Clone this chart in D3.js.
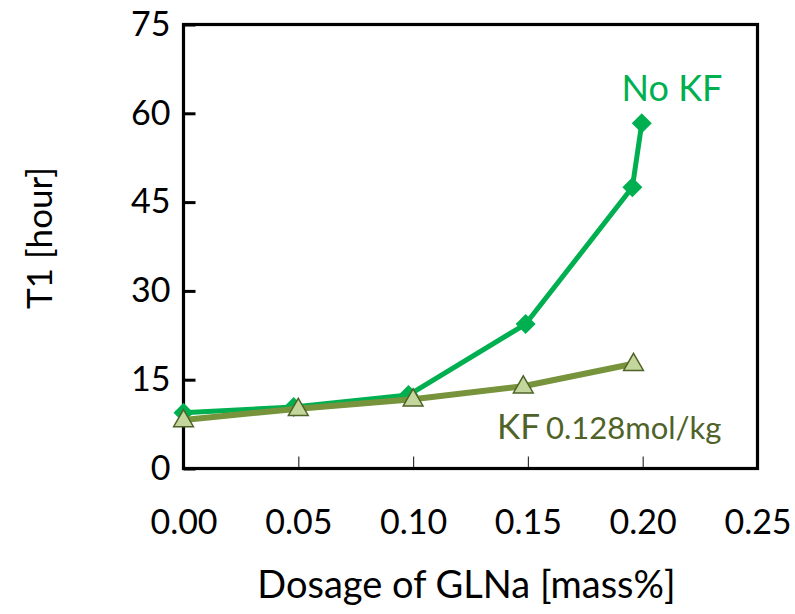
<!DOCTYPE html>
<html>
<head>
<meta charset="utf-8">
<script src="https://cdn.jsdelivr.net/npm/d3@7"></script>
<style>
  html, body { margin: 0; padding: 0; background: #fff; }
  svg { display: block; font-family: Lato, "Open Sans", sans-serif; }
</style>
</head>
<body>
<svg id="chart" width="795" height="614"></svg>
<script>
// ---- data ----
const dosageNoKF = [0.0, 0.048, 0.098, 0.149, 0.1955, 0.1996];
const t1NoKF     = [9.4, 10.4, 12.4, 24.4, 47.5, 58.3];
const dosageKF   = [0.0, 0.05, 0.10, 0.148, 0.196];
const t1KF       = [8.2, 10.1, 11.7, 13.9, 17.7];
const xTicks = [0, 0.05, 0.10, 0.15, 0.20, 0.25];
const yTicks = [0, 15, 30, 45, 60, 75];
const seriesLabels = ["No KF", "KF", "0.128mol/kg"];
const xTitle = "Dosage of GLNa [mass%]";
const yTitle = "T1 [hour]";

const svg = d3.select("#chart");
const m = {left: 183.5, right: 757.5, top: 24.5, bottom: 468.5};

const x = d3.scaleLinear().domain([0, 0.25]).range([m.left, m.right]);
const y = d3.scaleLinear().domain([0, 75]).range([m.bottom, m.top]);

// axes
const yAxis = svg.append("g").attr("transform", `translate(${m.left},0)`)
  .call(d3.axisLeft(y).tickValues(yTicks).tickSize(-12).tickPadding(13).tickFormat(d3.format("d")));
yAxis.select(".domain").remove();
yAxis.selectAll(".tick line").attr("stroke", "#000").attr("stroke-width", 3);
yAxis.selectAll(".tick text").attr("font-size", 34).attr("fill", "#000")
  .attr("font-family", "Lato, sans-serif");

const xAxis = svg.append("g").attr("transform", `translate(0,${m.bottom})`)
  .call(d3.axisBottom(x).tickValues(xTicks).tickSize(-12).tickPadding(41).tickFormat(d3.format(".2f")));
xAxis.select(".domain").remove();
xAxis.selectAll(".tick line").attr("stroke", "#333").attr("stroke-width", 1.2);
xAxis.selectAll(".tick text").attr("font-size", 34).attr("fill", "#000")
  .attr("font-family", "Lato, sans-serif");

// frame
svg.append("rect")
  .attr("x", m.left).attr("y", m.top)
  .attr("width", m.right - m.left).attr("height", m.bottom - m.top)
  .attr("fill", "none").attr("stroke", "#000").attr("stroke-width", 3.2);

// titles
svg.append("text").attr("x", (m.left + m.right) / 2 - 4).attr("y", 598)
  .attr("text-anchor", "middle").attr("font-size", 38).attr("fill", "#000").text(xTitle);
svg.append("text").attr("transform", `translate(52,238) rotate(-90)`)
  .attr("text-anchor", "middle").attr("font-size", 35).attr("fill", "#000").text(yTitle);

// series
const green = "#00B050";
const line = d3.line().x(d => x(d[0])).y(d => y(d[1]));
const noKF = dosageNoKF.map((d, i) => [d, t1NoKF[i]]);
const kf = dosageKF.map((d, i) => [d, t1KF[i]]);

svg.append("path").datum(noKF).attr("d", line)
  .attr("fill", "none").attr("stroke", green).attr("stroke-width", 5).attr("stroke-linejoin", "round");
svg.selectAll(".dia").data(noKF).join("path").attr("class", "dia")
  .attr("d", d3.symbol(d3.symbolSquare, 200)())
  .attr("transform", d => `translate(${x(d[0])},${y(d[1])}) rotate(45)`)
  .attr("fill", green);

svg.append("path").datum(kf).attr("d", line)
  .attr("fill", "none").attr("stroke", "#77933C").attr("stroke-width", 6).attr("stroke-linejoin", "round");
svg.selectAll(".tri").data(kf).join("path").attr("class", "tri")
  .attr("transform", d => `translate(${x(d[0])},${y(d[1]) + 1})`)
  .attr("d", d3.symbol(d3.symbolTriangle, 170)())
  .attr("fill", "#C3D69B").attr("stroke", "#4F6228").attr("stroke-width", 1.5);

// labels
svg.append("text").attr("x", 672).attr("y", 101).attr("text-anchor", "middle")
  .attr("font-size", 36).attr("fill", green).text(seriesLabels[0]);
const kfLabel = svg.append("text").attr("x", 497).attr("y", 439).attr("fill", "#4F6228");
kfLabel.append("tspan").attr("font-size", 35).text(seriesLabels[1]);
kfLabel.append("tspan").attr("font-size", 31).attr("dx", 6).text(seriesLabels[2]);
</script>
</body>
</html>
